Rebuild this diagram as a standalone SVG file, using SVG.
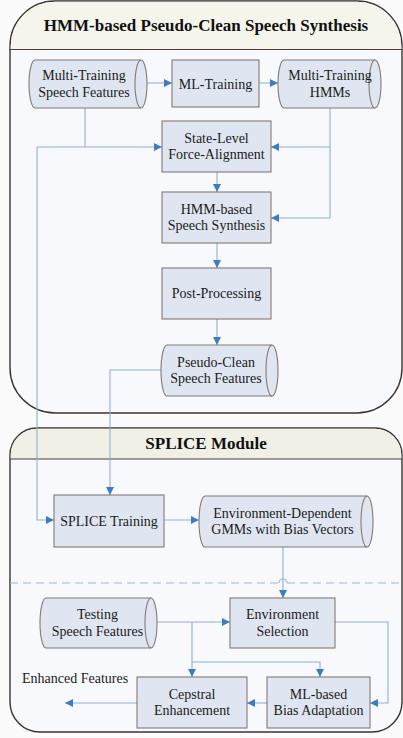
<svg xmlns="http://www.w3.org/2000/svg" width="403" height="738" viewBox="0 0 403 738">
  <style>
    .frame { stroke: #3b3232; stroke-width: 1.4; }
    .bar { stroke: #4a3c38; stroke-width: 1.2; fill: none; }
    .title { font-family: "Liberation Serif", "Times New Roman", serif; font-weight: bold; font-size: 17px; fill: #111; text-anchor: middle; }
    .node { fill: #dfe6f1; stroke: #857874; stroke-width: 1.1; }
    .cyl-in { fill: none; stroke: #857874; stroke-width: 1.1; }
    .lbl { font-family: "Liberation Serif", "Times New Roman", serif; font-size: 14px; fill: #1a1a1a; text-anchor: middle; }
    .wire { fill: none; stroke: #8fb1d2; stroke-width: 1.1; marker-end: url(#arrow); }
    .wire-plain { fill: none; stroke: #8fb1d2; stroke-width: 1.1; }
    .dash { fill: none; stroke: #9ab9d9; stroke-width: 1.2; stroke-dasharray: 8 5; }
  </style>
  <defs>
    <marker id="arrow" viewBox="0 0 10 10" refX="10" refY="5" markerWidth="8" markerHeight="8" markerUnits="userSpaceOnUse" orient="auto">
      <path d="M0,0 L10,5 L0,10 Z" fill="#3d7cc4"/>
    </marker>
  </defs>

  <rect x="0" y="0" width="403" height="738" fill="#fbfbfc"/>

  <!-- Upper module frame -->
  <g id="module-synthesis">
    <path class="frame" fill="#f8f9fc" d="M10,46 A45,45 0 0 1 55,1 L357,1 A45,45 0 0 1 402,46 L402,368 A45,45 0 0 1 357,413 L55,413 A45,45 0 0 1 10,368 Z"/>
    <path fill="#f6f5ec" d="M10.7,49.5 L10.7,46 A44.3,44.3 0 0 1 55,1.7 L357,1.7 A44.3,44.3 0 0 1 401.3,46 L401.3,49.5 Z"/>
    <line class="bar" x1="10" y1="49.5" x2="402" y2="49.5"/>
    <text class="title" x="206" y="31">HMM-based Pseudo-Clean Speech Synthesis</text>
  </g>

  <!-- Lower module frame -->
  <g id="module-splice">
    <path class="frame" fill="#f8f9fc" d="M10,455 A27,27 0 0 1 37,428 L375,428 A27,27 0 0 1 402,455 L402,702 A30,30 0 0 1 372,732 L40,732 A30,30 0 0 1 10,702 Z"/>
    <path fill="#f0f0e6" d="M10.7,459 L10.7,455 A26.3,26.3 0 0 1 37,428.7 L375,428.7 A26.3,26.3 0 0 1 401.3,455 L401.3,459 Z"/>
    <line class="bar" x1="10" y1="459" x2="402" y2="459"/>
    <text class="title" x="206" y="449">SPLICE Module</text>
    <path class="dash" d="M10,583 H279"/>
    <path class="wire-plain" d="M279,583 A4,4 0 0 1 287,583"/>
    <path class="dash" d="M287,583 H402"/>
  </g>

  <!-- Connectors -->
  <g id="connectors">
    <path class="wire" d="M147,83 H172"/>
    <path class="wire" d="M259,83 H278"/>
    <path class="wire-plain" d="M85,108 V147"/>
    <path class="wire" d="M37,147 H162"/>
    <path class="wire" d="M37,147 V520 H54"/>
    <path class="wire" d="M330,108 V218 H271"/>
    <path class="wire" d="M330,147 H271"/>
    <path class="wire" d="M217,172 V192"/>
    <path class="wire" d="M217,243 V268"/>
    <path class="wire" d="M217,319 V345"/>
    <path class="wire" d="M161,370 H110 V495"/>
    <path class="wire" d="M164,520 H199"/>
    <path class="wire" d="M283,547 V598"/>
    <path class="wire" d="M157,622 H230"/>
    <path class="wire" d="M192,622 V677"/>
    <path class="wire" d="M192,662 H320 V677"/>
    <path class="wire" d="M335,622 H388 V703 H370"/>
    <path class="wire" d="M267,703 H247"/>
    <path class="wire" d="M137,703 H65"/>
  </g>

  <!-- Nodes -->
  <g id="multi-training-features">
    <path class="node" d="M35,60 L141,60 A6,24 0 0 1 141,108 L35,108 A6,24 0 0 1 35,60 Z"/>
    <path class="cyl-in" d="M141,60 A6,24 0 0 0 141,108"/>
    <text class="lbl" x="84" y="80">Multi-Training</text>
    <text class="lbl" x="84" y="97">Speech Features</text>
  </g>

  <g id="ml-training">
    <rect class="node" x="172" y="60" width="87" height="47"/>
    <text class="lbl" x="215.5" y="88.5">ML-Training</text>
  </g>

  <g id="multi-training-hmms">
    <path class="node" d="M284,60 L375,60 A6,24 0 0 1 375,108 L284,108 A6,24 0 0 1 284,60 Z"/>
    <path class="cyl-in" d="M375,60 A6,24 0 0 0 375,108"/>
    <text class="lbl" x="330" y="80">Multi-Training</text>
    <text class="lbl" x="330" y="97">HMMs</text>
  </g>

  <g id="force-alignment">
    <rect class="node" x="162" y="121" width="109" height="51"/>
    <text class="lbl" x="216.5" y="142.5">State-Level</text>
    <text class="lbl" x="216.5" y="159">Force-Alignment</text>
  </g>

  <g id="hmm-synthesis">
    <rect class="node" x="162" y="192" width="109" height="51"/>
    <text class="lbl" x="216.5" y="213.5">HMM-based</text>
    <text class="lbl" x="216.5" y="230">Speech Synthesis</text>
  </g>

  <g id="post-processing">
    <rect class="node" x="162" y="268" width="109" height="51"/>
    <text class="lbl" x="216.5" y="298">Post-Processing</text>
  </g>

  <g id="pseudo-clean-features">
    <path class="node" d="M167,345 L272,345 A6,25.5 0 0 1 272,396 L167,396 A6,25.5 0 0 1 167,345 Z"/>
    <path class="cyl-in" d="M272,345 A6,25.5 0 0 0 272,396"/>
    <text class="lbl" x="216" y="366.5">Pseudo-Clean</text>
    <text class="lbl" x="216" y="383">Speech Features</text>
  </g>

  <g id="splice-training">
    <rect class="node" x="54" y="495" width="110" height="52"/>
    <text class="lbl" x="109" y="525.5">SPLICE Training</text>
  </g>

  <g id="environment-gmms">
    <path class="node" d="M205,496 L367,496 A6,25.5 0 0 1 367,547 L205,547 A6,25.5 0 0 1 205,496 Z"/>
    <path class="cyl-in" d="M367,496 A6,25.5 0 0 0 367,547"/>
    <text class="lbl" x="282.5" y="517.5">Environment-Dependent</text>
    <text class="lbl" x="282.5" y="534">GMMs with Bias Vectors</text>
  </g>

  <g id="environment-selection">
    <rect class="node" x="230" y="598" width="105" height="50"/>
    <text class="lbl" x="282.5" y="619">Environment</text>
    <text class="lbl" x="282.5" y="635.5">Selection</text>
  </g>

  <g id="testing-features">
    <path class="node" d="M46,598 L151,598 A6,25 0 0 1 151,648 L46,648 A6,25 0 0 1 46,598 Z"/>
    <path class="cyl-in" d="M151,598 A6,25 0 0 0 151,648"/>
    <text class="lbl" x="97.5" y="619">Testing</text>
    <text class="lbl" x="97.5" y="635.5">Speech Features</text>
  </g>

  <g id="cepstral-enhancement">
    <rect class="node" x="137" y="677" width="110" height="51"/>
    <text class="lbl" x="192" y="698.5">Cepstral</text>
    <text class="lbl" x="192" y="715">Enhancement</text>
  </g>

  <g id="bias-adaptation">
    <rect class="node" x="267" y="677" width="103" height="51"/>
    <text class="lbl" x="318.5" y="698.5">ML-based</text>
    <text class="lbl" x="318.5" y="715">Bias Adaptation</text>
  </g>

  <g id="enhanced-features">
    <text class="lbl" x="22" y="683" text-anchor="start" style="text-anchor:start">Enhanced Features</text>
  </g>
</svg>
